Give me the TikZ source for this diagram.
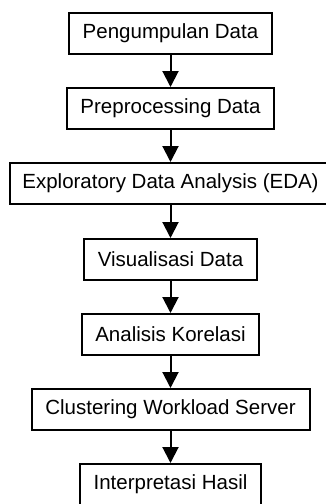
\documentclass[tikz,border=0pt]{standalone}
\usepackage{fontspec}
\setmainfont{Liberation Sans}
\usetikzlibrary{arrows.meta}
\begin{document}
\begin{tikzpicture}[x=1pt,y=1pt,
  box/.style={draw=black, line width=2pt, fill=white, inner sep=0pt,
    minimum height=41pt, font=\fontsize{20.5}{24}\selectfont, anchor=north},
  flow/.style={line width=2pt, -{Triangle[width=16pt,length=16pt]}}]
\useasboundingbox (0,0) rectangle (326,-504);
\fill[white] (0,0) rectangle (326,-504);
\clip (0,0) rectangle (326,-504);
\node[box, minimum width=203pt] (n1) at (170.5,-12) {Pengumpulan Data};
\node[box, minimum width=207pt] (n2) at (170.5,-87) {Preprocessing Data};
\node[box, minimum width=322pt] (n3) at (170.5,-162) {Exploratory Data Analysis (EDA)};
\node[box, minimum width=173pt] (n4) at (170.5,-238) {Visualisasi Data};
\node[box, minimum width=177pt] (n5) at (170.5,-313) {Analisis Korelasi};
\node[box, minimum width=278pt] (n6) at (170.5,-388) {Clustering Workload Server};
\node[box, minimum width=181pt] (n7) at (170.5,-463) {Interpretasi Hasil};
\draw[flow] (n1) -- (n2);
\draw[flow] (n2) -- (n3);
\draw[flow] (n3) -- (n4);
\draw[flow] (n4) -- (n5);
\draw[flow] (n5) -- (n6);
\draw[flow] (n6) -- (n7);
\end{tikzpicture}
\end{document}
